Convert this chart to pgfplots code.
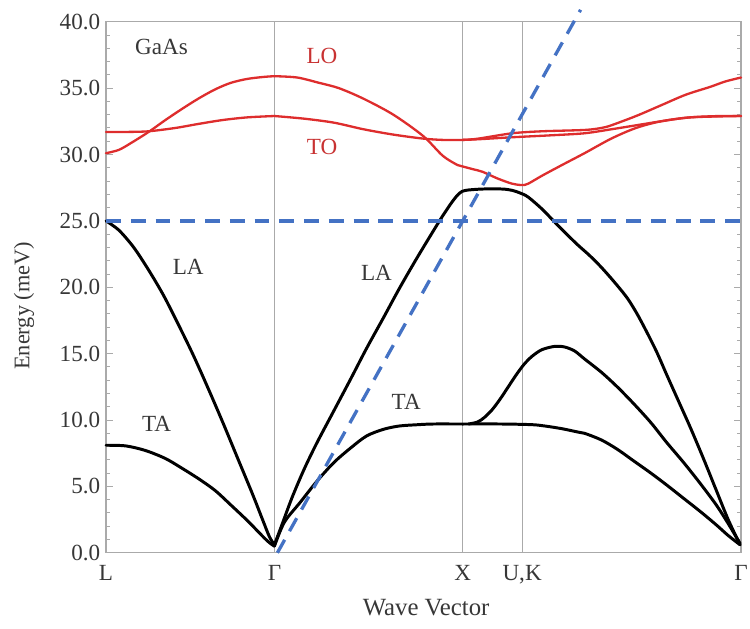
\documentclass[border=0pt]{standalone}
\usepackage{pgfplots}
\pgfplotsset{compat=1.18}
\usepackage{fontspec}
\setmainfont{Liberation Serif}
\definecolor{optred}{RGB}{222,45,45}
\definecolor{lblred}{RGB}{200,50,50}
\definecolor{dashblue}{RGB}{68,114,196}
\definecolor{frame}{RGB}{170,170,170}
\definecolor{txt}{RGB}{55,55,55}

\begin{document}
\begin{tikzpicture}[lbl/.style={font=\fontsize{14}{16}\selectfont}]
\begin{axis}[
    scale only axis,
    width=384.6pt, height=321.6pt,
    xmin=0, xmax=641, ymin=0, ymax=40,
    clip=false,
    axis line style={frame, line width=0.8pt},
    xtick={0,170,360,420,641},
    xticklabels={L,Γ,X,{U,K},Γ},
    xtick style={draw=none},
    xticklabel style={yshift=-3.9pt},
    xmajorgrids=true,
    major grid style={frame, line width=0.7pt},
    ytick={0,5,...,40},
    minor y tick num=4,
    ytick style={frame, line width=0.6pt},
    tick align=inside,
    major tick length=4pt,
    minor tick length=2.5pt,
    yticklabel style={/pgf/number format/.cd, fixed, fixed zerofill, precision=1, assume math mode=true},
    ticklabel style={text=txt, font=\fontsize{14}{16}\selectfont},
    xlabel={Wave Vector},
    ylabel={Energy (meV)},
    label style={text=txt},
    xlabel style={at={(axis description cs:0.504,-0.103)}, anchor=center, font=\fontsize{15}{17}\selectfont},
    ylabel style={at={(axis description cs:-0.129,0.465)}, anchor=center, font=\fontsize{13.5}{15}\selectfont},
    every axis plot/.append style={line join=round, line cap=round},
    acoustic/.style={black, line width=1.8pt, smooth, tension=0.5},
    optical/.style={optred, line width=1.4pt, smooth, tension=0.5},
]
% acoustic branches
\addplot[acoustic] coordinates {(0,25.0) (13,24.3) (28,23.0) (43,21.3) (58,19.4) (73,17.2) (88,14.9) (103,12.4) (118,9.8) (133,7.1) (148,4.4) (158,2.5) (165,1.2) (170,0.6)};
\addplot[acoustic] coordinates {(0,8.1) (20,8.05) (40,7.7) (60,7.1) (76,6.4) (93,5.6) (110,4.7) (126,3.6) (143,2.4) (160,1.1) (166,0.7) (170,0.5)};
\addplot[acoustic] coordinates {(170,0.6) (178,2.2) (188,4.2) (200,6.3) (213,8.3) (230,10.7) (247,13.1) (263,15.4) (280,17.7) (296,19.9) (313,22.1) (330,24.2) (340,25.4) (350,26.5) (357,27.1) (363,27.3) (380,27.4) (400,27.4) (410,27.3) (418,27.1) (426,26.8) (440,25.9) (453,24.9) (465,24.0) (476,23.2) (488,22.4) (500,21.5) (513,20.4) (526,19.2) (536,18.0) (546,16.6) (556,15.1) (566,13.4) (578,11.4) (590,9.4) (603,7.1) (616,4.7) (628,2.5) (640,0.6)};
\addplot[acoustic] coordinates {(170,0.5) (180,2.3) (196,3.8) (213,5.4) (230,6.8) (247,7.9) (263,8.8) (280,9.3) (296,9.55) (315,9.65) (330,9.7) (360,9.7) (400,9.7) (430,9.65) (443,9.55) (460,9.35) (476,9.1) (483,9.0) (500,8.5) (516,7.8) (533,6.9) (550,6.0) (566,5.1) (583,4.1) (600,3.1) (616,2.1) (628,1.3) (640,0.6)};
\addplot[acoustic] coordinates {(366,9.7) (375,9.85) (382,10.2) (390,10.8) (398,11.6) (406,12.5) (414,13.4) (422,14.2) (430,14.8) (440,15.3) (453,15.55) (463,15.5) (473,15.2) (483,14.6) (500,13.6) (516,12.5) (533,11.2) (550,9.8) (566,8.3) (583,6.8) (600,5.2) (616,3.6) (628,2.2) (640,0.7)};
% optical branches
\addplot[optical] coordinates {(0,30.1) (13,30.35) (26,30.9) (43,31.7) (60,32.6) (76,33.4) (93,34.2) (110,34.9) (126,35.4) (143,35.7) (160,35.85) (170,35.9)};
\addplot[optical] coordinates {(0,31.7) (20,31.7) (43,31.75) (70,32.0) (93,32.3) (118,32.6) (143,32.8) (170,32.9)};
\addplot[optical] coordinates {(170,35.9) (193,35.8) (215,35.4) (235,35.0) (260,34.2) (290,33.0) (320,31.4) (340,29.9) (355,29.2) (360,29.1) (370,28.9) (380,28.7) (395,28.2) (410,27.8) (420,27.7) (426,27.8) (440,28.4) (460,29.2) (483,30.1) (510,31.2) (535,32.0) (560,32.5) (590,32.8) (620,32.9) (641,32.9)};
\addplot[optical] coordinates {(170,32.9) (200,32.7) (230,32.4) (260,31.9) (290,31.5) (320,31.2) (340,31.1) (360,31.1) (376,31.2) (410,31.6) (440,31.75) (483,31.85) (500,32.0) (510,32.2) (535,32.9) (560,33.7) (585,34.5) (610,35.1) (625,35.5) (641,35.8)};
\addplot[optical] coordinates {(360,31.1) (376,31.15) (410,31.3) (450,31.45) (483,31.6) (510,31.9) (535,32.2) (560,32.5) (590,32.8) (641,32.9)};
% dashed reference lines
\addplot[dashblue, line width=2pt, dash pattern=on 9pt off 6pt, line cap=butt] coordinates {(0,25) (641,25)};
\addplot[dashblue, line width=2pt, dash pattern=on 9pt off 6pt, line cap=butt] coordinates {(173,0) (479,40.9)};
% labels
\node[lbl, text=lblred] at (axis cs:218,37.4) {LO};
\node[lbl, text=lblred] at (axis cs:218,30.6) {TO};
\node[lbl, text=txt] at (axis cs:83,21.5) {LA};
\node[lbl, text=txt] at (axis cs:273,21.1) {LA};
\node[lbl, text=txt] at (axis cs:51,9.7) {TA};
\node[lbl, text=txt] at (axis cs:303,11.4) {TA};
\node[lbl, text=txt] at (axis cs:56,38.1) {GaAs};
\coordinate (bbl) at (axis cs:-107,-5.67);
\coordinate (bur) at (axis cs:650,41.64);
\end{axis}
\pgfresetboundingbox
\path[use as bounding box] (bbl) rectangle (bur);
\end{tikzpicture}
\end{document}
